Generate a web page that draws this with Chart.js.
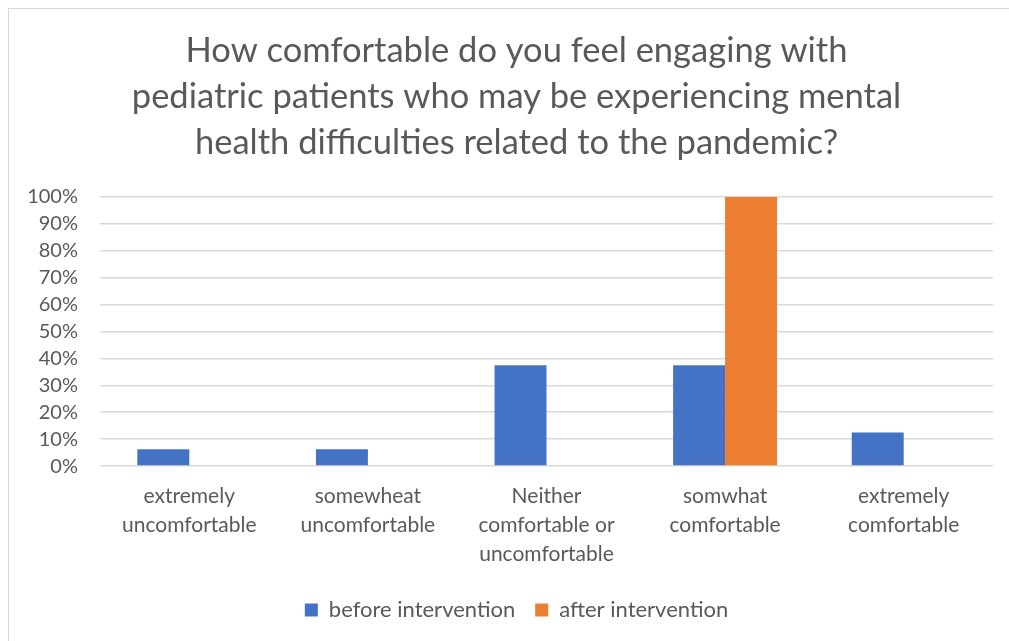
<!DOCTYPE html>
<html>
<head>
<meta charset="utf-8">
<script src="https://cdn.jsdelivr.net/npm/chart.js@4.4.1/dist/chart.umd.min.js"></script>
<style>
  html, body { margin: 0; padding: 0; background: #fff; }
  #frame { position: absolute; left: 8px; top: 8px; width: 1010px; height: 650px; border: 1.5px solid #d9d9d9; box-sizing: border-box; }
  #wrap { position: absolute; left: 0; top: 0; width: 1009px; height: 641px; }
</style>
</head>
<body>
<div id="frame"></div>
<div id="wrap"><canvas id="c" width="1009" height="641"></canvas></div>
<script>
const titleLines = [
  "How comfortable do you feel engaging with",
  "pediatric patients who may be experiencing mental",
  "health difficulties related to the pandemic?"
];
const categories = [
  ["extremely", "uncomfortable"],
  ["somewheat", "uncomfortable"],
  ["Neither", "comfortable or", "uncomfortable"],
  ["somwhat", "comfortable"],
  ["extremely", "comfortable"]
];
const seriesNames = ["before intervention", "after intervention"];
const beforeValues = [6.25, 6.25, 37.5, 37.5, 12.5];
const afterValues = [0, 0, 0, 100, 0];
const yTicks = [0, 10, 20, 30, 40, 50, 60, 70, 80, 90, 100];

const TEXT = "#595959";
const FONT = "Lato, 'Open Sans', sans-serif";

// let the y tick labels use the space left of the layout padding (title is centred on the frame)
const unclipYLabels = {
  id: "unclipYLabels",
  afterLayout(chart) { chart.scales.y.left = 0; }
};

new Chart(document.getElementById("c"), {
  type: "bar",
  data: {
    labels: categories,
    datasets: [
      { label: seriesNames[0], data: beforeValues, backgroundColor: "#4472C4", borderWidth: 0 },
      { label: seriesNames[1], data: afterValues, backgroundColor: "#ED7D31", borderWidth: 0 }
    ]
  },
  plugins: [unclipYLabels],
  options: {
    responsive: false,
    animation: false,
    events: [],
    layout: { padding: { left: 40, right: 16, top: 0, bottom: 10 } },
    datasets: { bar: { barPercentage: 1, categoryPercentage: 0.582 } },
    scales: {
      x: {
        afterFit: (s) => { s.height -= 6; },
        grid: { display: false, drawTicks: false },
        border: { display: false },
        ticks: { color: TEXT, font: { family: FONT, size: 21, lineHeight: 1.38 }, padding: 16, maxRotation: 0, autoSkip: false }
      },
      y: {
        min: 0, max: 100,
        afterFit: (s) => { s.width = 60; },
        afterBuildTicks: (s) => { s.ticks = yTicks.map(v => ({ value: v })); },
        grid: { color: "#d9d9d9", lineWidth: 1.5, drawTicks: false },
        border: { display: false },
        ticks: { color: TEXT, font: { family: FONT, size: 20 }, padding: 22, autoSkip: false, callback: (v) => v + "%" }
      }
    },
    plugins: {
      tooltip: { enabled: false },
      title: {
        display: true,
        text: titleLines,
        color: TEXT,
        font: { family: FONT, size: 34.5, weight: "normal", lineHeight: 1.333 },
        padding: { top: 28, bottom: 31 }
      },
      legend: {
        position: "bottom",
        labels: { color: TEXT, font: { family: FONT, size: 22 }, boxWidth: 13, boxHeight: 13, padding: 20 }
      }
    }
  }
});
</script>
</body>
</html>
